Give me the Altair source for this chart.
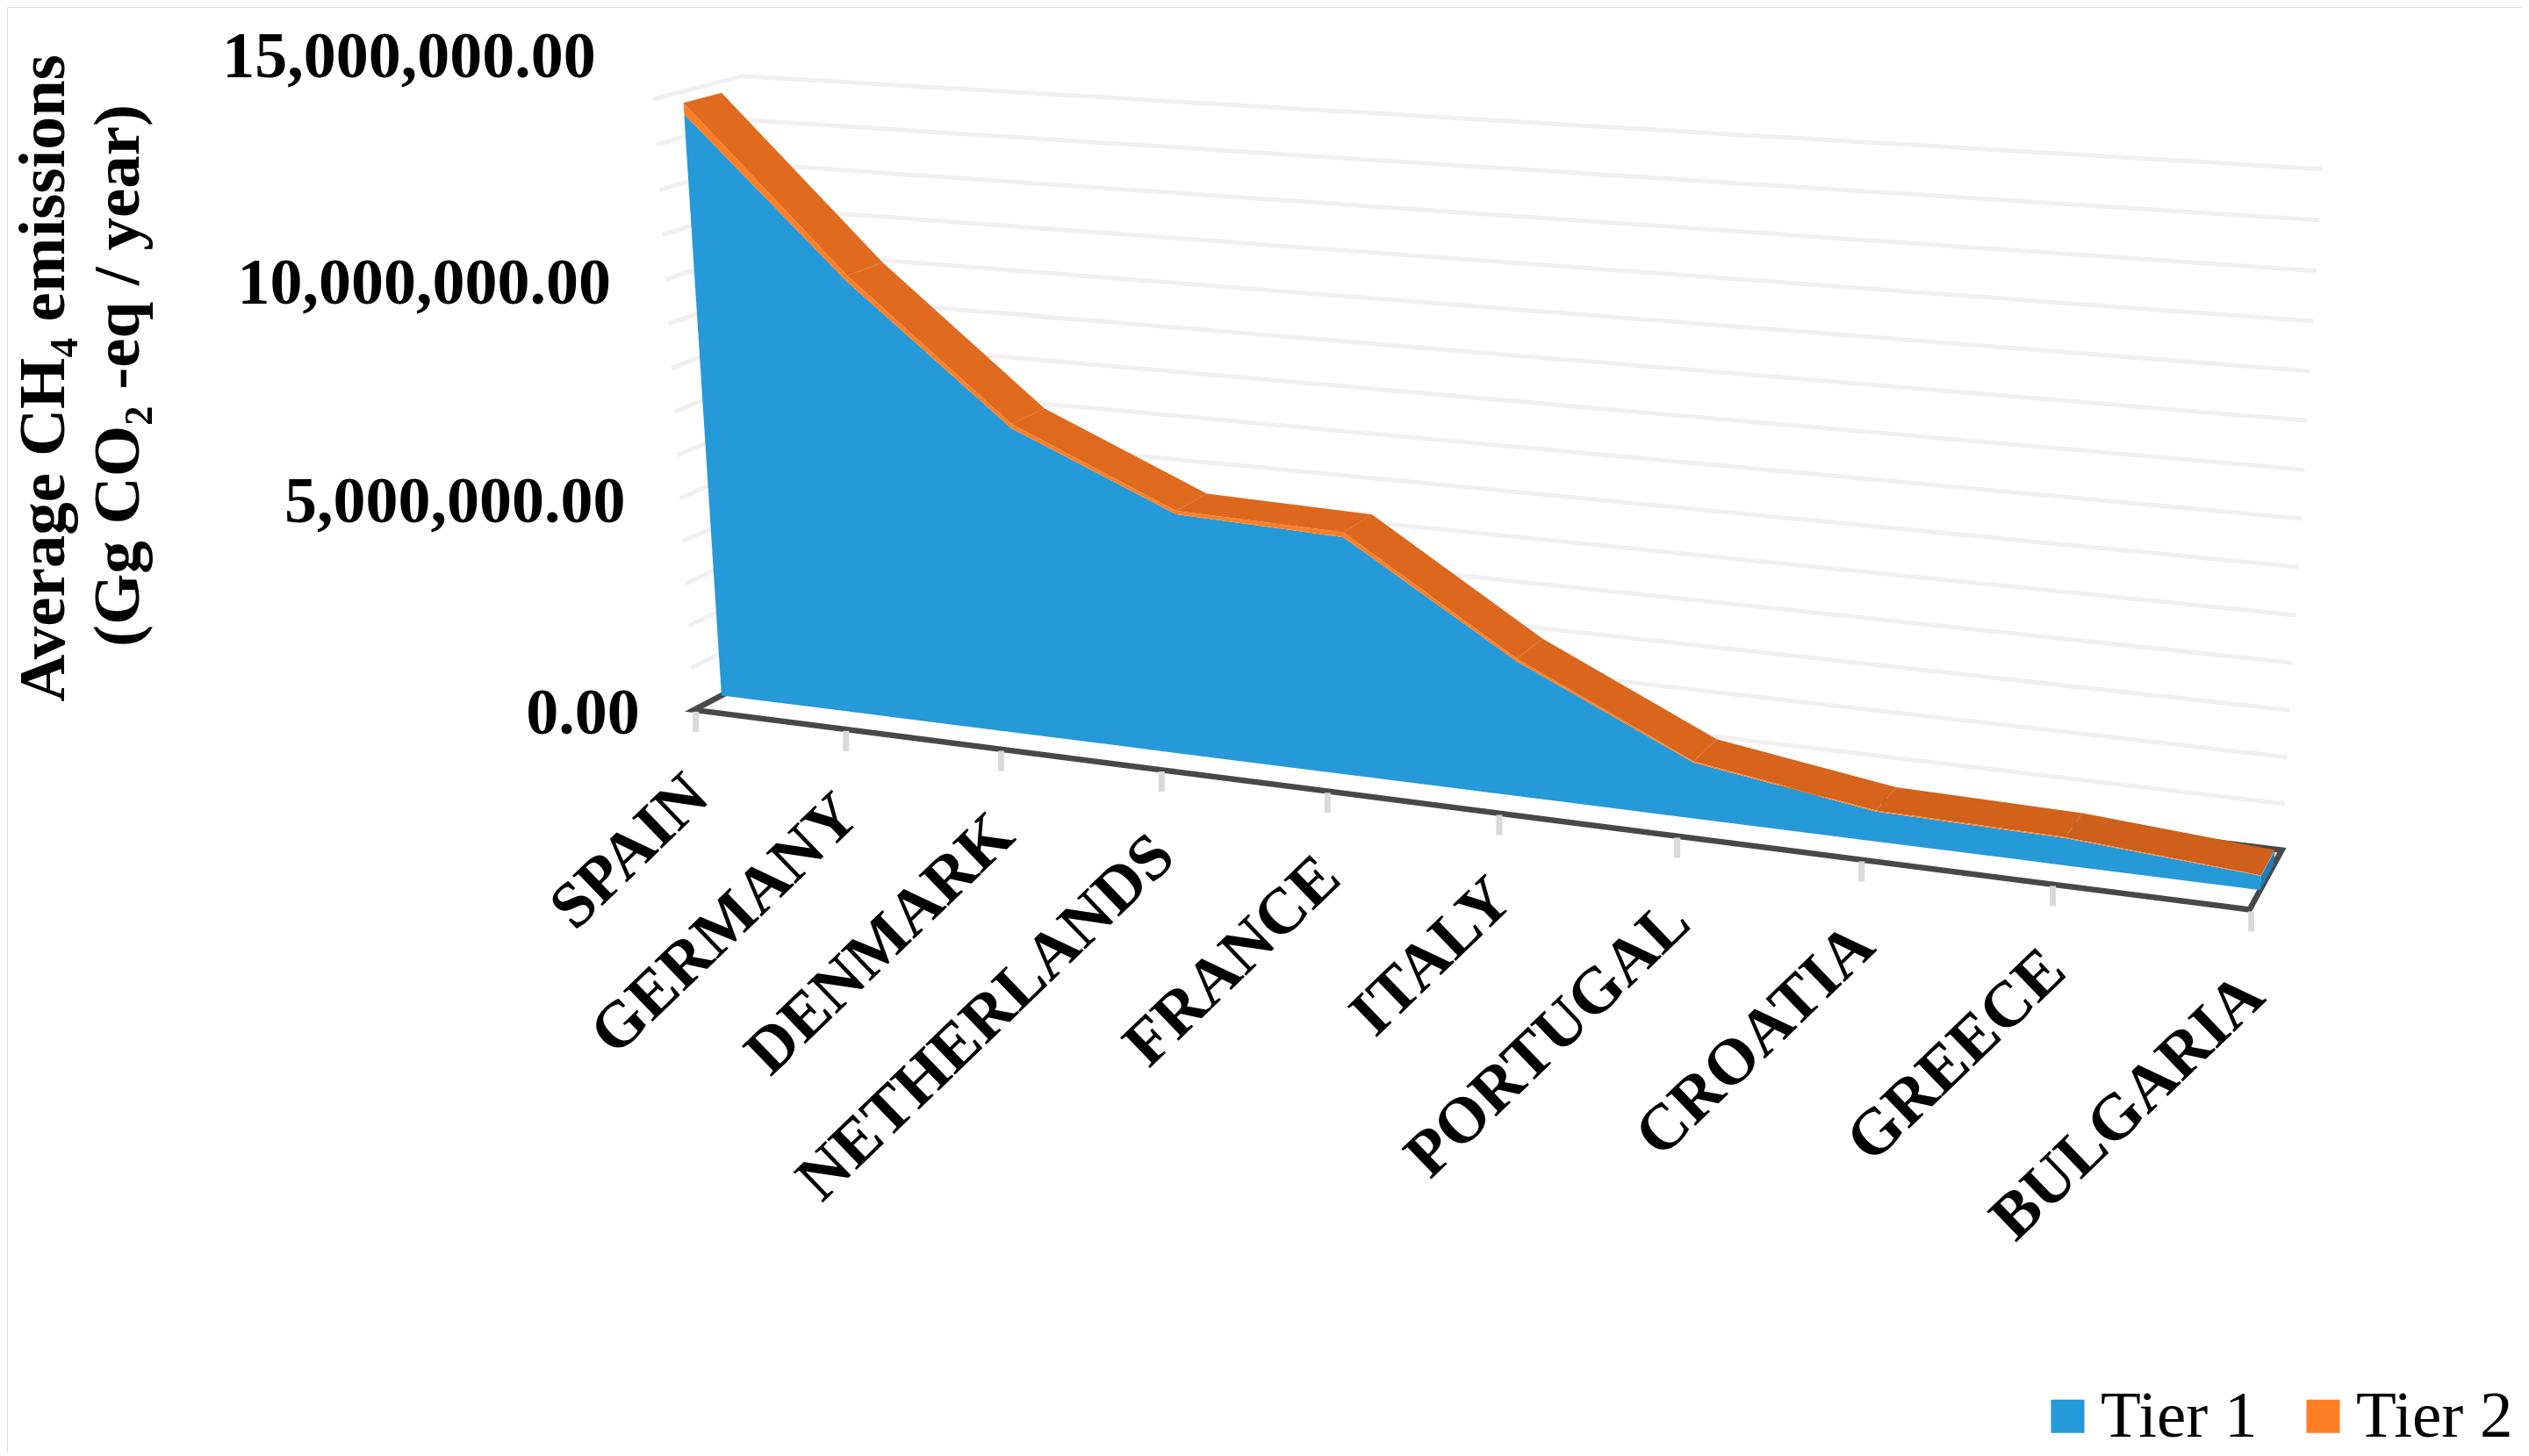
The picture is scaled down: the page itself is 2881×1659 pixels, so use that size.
import numpy as np
import pandas as pd
import altair as alt

COUNTRIES = ["SPAIN", "GERMANY", "DENMARK", "NETHERLANDS", "FRANCE", "ITALY", "PORTUGAL", "CROATIA", "GREECE", "BULGARIA"]
TIER1 = [13500000, 10000000, 7030000, 5460000, 5330000, 3000000, 1230000, 650000, 580000, 300000]
TIER2 = [250000, 150000, 100000, 80000, 110000, 60000, 30000, 20000, 20000, 10000]
Y_LABELS = [0, 5000000, 10000000, 15000000]
GRID_VALUES = [v * 1000000 for v in range(15)]
SERIES = ["Tier 1", "Tier 2"]
TOP_SHADES = ["#E06A1D", "#E06A1D", "#DF691D", "#DD681D", "#DC671D", "#DA661C", "#D6641C", "#D2621B", "#CE601B"]
TITLE_LINES = ["Average CH\u2084 emissions", "(Gg CO\u2082 -eq / year)"]

# camera of the 3-D view: (category, million, depth) -> picture position
CAL_3D = np.array([[0, 0, 0], [9, 0, 0], [4, 0, 0], [0, 7, 0], [0, 14, 0], [0, 14, 1], [9, 14, 1], [9, 0, 1], [0, 0, 1]], float)
CAL_2D = np.array([[790, 808], [2563, 1038], [1510, 901], [768, 467], [745, 115], [845, 85.5], [2646, 193], [2599, 967], [887, 761]], float)
rows, rhs = [], []
for (u, v, d), (X, Y) in zip(CAL_3D, CAL_2D):
    rows.append([u, v, d, 1, 0, 0, 0, 0, -X * u, -X * v, -X * d]); rhs.append(X)
    rows.append([0, 0, 0, 0, u, v, d, 1, -Y * u, -Y * v, -Y * d]); rhs.append(Y)
P = np.append(np.linalg.lstsq(np.array(rows), np.array(rhs), rcond=None)[0], 1).reshape(3, 4)


def proj(u, value, d):
    h = P @ np.array([u, value / 1e6, d, 1.0])
    return h[0] / h[2], h[1] / h[2]


D_FRONT, D_BACK = 0.32, 0.75
n = len(COUNTRIES)
t1 = np.array(TIER1, float)
tot = t1 + np.array(TIER2, float)

polys = []


def add(pid, part, verts):
    for k, (u, v, d) in enumerate(verts):
        X, Y = proj(u, v, d)
        polys.append({"poly": pid, "part": part, "k": k, "X": X, "Y": Y})


add("cap_b", "cap_blue", [(n - 1, 0, D_FRONT), (n - 1, 0, D_BACK), (n - 1, t1[-1], D_BACK), (n - 1, t1[-1], D_FRONT)])
for i in range(n - 1):
    add(f"top{i}", f"s{i}", [(i, tot[i], D_FRONT), (i + 1, tot[i + 1], D_FRONT), (i + 1, tot[i + 1], D_BACK), (i, tot[i], D_BACK)])
add("blue", SERIES[0], [(i, 0, D_FRONT) for i in range(n)] + [(i, t1[i], D_FRONT) for i in range(n - 1, -1, -1)])
add("orange", SERIES[1], [(i, t1[i], D_FRONT) for i in range(n)] + [(i, tot[i], D_FRONT) for i in range(n - 1, -1, -1)])
poly_df = pd.DataFrame(polys)

x_enc = alt.X("X:Q", scale=alt.Scale(domain=[8, 2873], nice=False, zero=False), axis=None)
y_enc = alt.Y("Y:Q", scale=alt.Scale(domain=[1654, 8], nice=False, zero=False), axis=None)

grid = []
for v in GRID_VALUES[1:]:
    for k, (u, d) in enumerate([(0, 0), (0, 1), (n - 1, 1)]):
        X, Y = proj(u, v, d)
        grid.append({"g": v, "k": k, "X": X, "Y": Y})
grid_layer = alt.Chart(pd.DataFrame(grid)).mark_line(color="#F0F0F0", strokeWidth=5).encode(x=x_enc, y=y_enc, detail="g:N", order="k:Q")

floor = []
for k, (u, d) in enumerate([(0, 1), (0, 0), (n - 1, 0), (n - 1, 1), (0, 1)]):
    X, Y = proj(u, 0, d)
    floor.append({"k": k, "X": X, "Y": Y})
floor_layer = alt.Chart(pd.DataFrame(floor)).mark_line(color="#484848", strokeWidth=6.5).encode(x=x_enc, y=y_enc, order="k:Q")

base = [proj(i, 0, 0) for i in range(n)]
TICK_LEN = 23
tick_df = pd.DataFrame({"X": [b[0] + 2 for b in base], "Y": [b[1] + 2 for b in base], "Y2": [b[1] + 2 + TICK_LEN for b in base]})
tick_layer = alt.Chart(tick_df).mark_rule(color="#D9D9D9", strokeWidth=7).encode(x=x_enc, y=y_enc, y2="Y2:Q")
cat_df = pd.DataFrame({"c": COUNTRIES, "X": [b[0] + 5 for b in base], "Y": [b[1] + 2 + TICK_LEN + 62 for b in base]})
cat_layer = alt.Chart(cat_df).mark_text(font="Liberation Serif", fontWeight="bold", fontSize=74, angle=316, align="right", baseline="middle", color="#000000").encode(x=x_enc, y=y_enc, text="c:N")

lab = [proj(0, v, 0) for v in Y_LABELS]
val_df = pd.DataFrame({"t": [f"{v:,.2f}" for v in Y_LABELS], "X": [p[0] for p in lab], "Y": [p[1] for p in lab]})
val_layer = alt.Chart(val_df).mark_text(font="Liberation Serif", fontWeight="bold", fontSize=74, align="right", baseline="middle", dx=-62, dy=5, color="#000000").encode(x=x_enc, y=y_enc, text="t:N")

top_parts = [f"s{i}" for i in range(n - 1)]
fill_scale = alt.Scale(domain=top_parts + ["cap_blue"], range=TOP_SHADES + ["#1C7FB8"])
side_layer = alt.Chart(poly_df[~poly_df.part.isin(SERIES)]).mark_line(strokeWidth=0, strokeOpacity=0, interpolate="linear").encode(
    x=x_enc, y=y_enc, detail="poly:N", order="k:Q", fill=alt.Fill("part:N", scale=fill_scale, legend=None))
face_layer = alt.Chart(poly_df[poly_df.part.isin(SERIES)]).mark_line(strokeWidth=0, strokeOpacity=0, interpolate="linear").encode(
    x=x_enc, y=y_enc, detail="poly:N", order="k:Q",
    fill=alt.Fill("part:N", scale=alt.Scale(domain=SERIES, range=["#2699D9", "#FF7F27"]),
                  legend=alt.Legend(title=None, orient="none", legendX=2310, legendY=1568, direction="horizontal",
                                    symbolType="square", symbolSize=1450, symbolStrokeWidth=0, symbolOpacity=1,
                                    labelFont="Liberation Serif", labelFontSize=75, labelColor="#000000",
                                    labelLimit=400, columnPadding=37, labelOffset=0)))

title_df = pd.DataFrame({"t": TITLE_LINES, "X": [73, 158], "Y": [431, 428]})
title_layer = alt.Chart(title_df).mark_text(font="Liberation Serif", fontWeight="bold", fontSize=75, angle=270, align="center", baseline="alphabetic", color="#000000").encode(x=x_enc, y=y_enc, text="t:N")

chart = alt.layer(grid_layer, floor_layer, tick_layer, side_layer, face_layer, cat_layer, val_layer, title_layer).resolve_scale(fill="independent").properties(
    width=2865, height=1646, padding=0, autosize=alt.AutoSizeParams(type="none")
).configure_view(stroke=None).configure(background="#FFFFFF")
chart.save("out.html", embed_options={"renderer": "svg", "actions": False})
